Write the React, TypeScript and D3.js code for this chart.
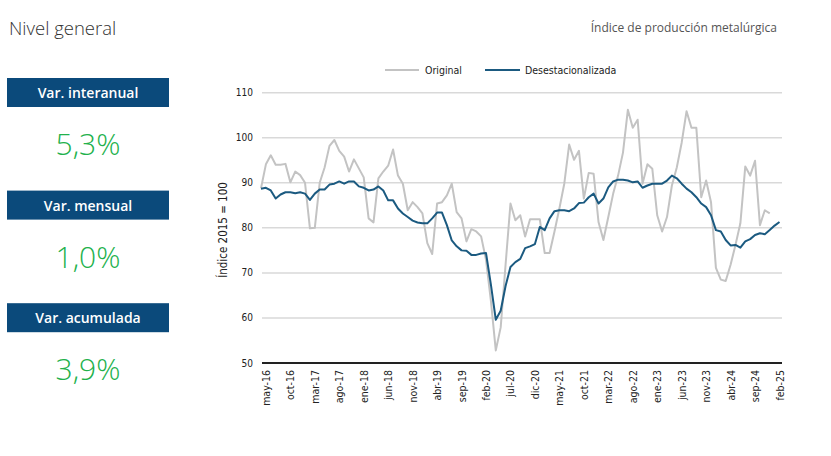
import React from "react";
import * as d3 from "d3";

// Monthly series, Apr 2016 .. Feb 2025
const MONTHS_ES = ["ene", "feb", "mar", "abr", "may", "jun", "jul", "ago", "sep", "oct", "nov", "dic"];
const START_YEAR = 2016;
const START_MONTH = 3; // abr

const original: (number | null)[] = [
  88.8, 94.1, 96.1, 94.0, 94.0, 94.2, 90.1, 92.5, 91.7, 90.0, 79.9, 80.0, 90.0, 93.4, 98.2, 99.5,
  97.1, 95.8, 92.5, 95.2, 93.2, 91.2, 82.1, 81.2, 91.0, 92.5, 93.8, 97.4, 91.6, 89.8, 83.9, 85.7,
  84.6, 83.2, 76.6, 74.2, 85.4, 85.7, 87.2, 89.8, 83.5, 82.1, 77.0, 79.7, 79.2, 78.1, 72.9, 63.8,
  52.8, 57.9, 71.8, 85.4, 81.7, 82.8, 78.1, 81.9, 81.9, 81.9, 74.4, 74.4, 79.2, 84.3, 89.8, 98.5,
  95.1, 97.1, 86.5, 92.2, 92.0, 81.3, 77.3, 82.4, 87.6, 91.6, 96.7, 106.2, 102.2, 104.0, 89.8, 94.1,
  93.1, 82.8, 79.2, 82.4, 89.4, 93.4, 98.9, 105.9, 102.2, 102.2, 86.8, 90.5, 85.7, 71.1, 68.5, 68.2,
  71.8, 76.2, 81.0, 93.6, 91.6, 94.9, 80.6, 83.9, 83.2, null, null,
];

const desestacionalizada: number[] = [
  88.7, 88.9, 88.3, 86.5, 87.4, 87.9, 87.9, 87.7, 87.9, 87.6, 86.2, 87.6, 88.5, 88.5, 89.6, 89.8,
  90.3, 89.8, 90.3, 90.3, 89.2, 88.9, 88.3, 88.5, 89.2, 88.3, 86.1, 86.1, 84.3, 83.2, 82.4, 81.6,
  81.2, 81.0, 81.0, 82.1, 83.4, 83.4, 80.6, 77.2, 75.9, 75.0, 74.9, 74.0, 74.0, 74.3, 74.4, 67.4,
  59.6, 61.6, 67.1, 71.3, 72.4, 73.1, 75.5, 75.9, 76.4, 80.2, 79.5, 82.1, 83.7, 83.9, 83.9, 83.7,
  84.3, 85.5, 85.6, 86.8, 87.6, 85.4, 86.5, 89.0, 90.3, 90.7, 90.7, 90.5, 90.1, 90.3, 88.9, 89.4,
  89.8, 89.8, 89.8, 90.5, 91.6, 91.0, 89.8, 88.7, 87.9, 86.8, 85.4, 84.6, 82.8, 79.5, 79.2, 77.3,
  76.1, 76.2, 75.6, 77.0, 77.5, 78.4, 78.8, 78.6, 79.5, 80.5, 81.3,
];

const tickLabels = [
  "may-16", "oct-16", "mar-17", "ago-17", "ene-18", "jun-18", "nov-18", "abr-19", "sep-19", "feb-20", "jul-20",
  "dic-20", "may-21", "oct-21", "mar-22", "ago-22", "ene-23", "jun-23", "nov-23", "abr-24", "sep-24", "feb-25",
];

const yTicks = [50, 60, 70, 80, 90, 100, 110];

const kpiLabels = ["Var. interanual", "Var. mensual", "Var. acumulada"];
const kpiValues = ["5,3%", "1,0%", "3,9%"];

const categories = desestacionalizada.map((_, i) => {
  const m = START_MONTH + i;
  const y = START_YEAR + Math.floor(m / 12);
  return `${MONTHS_ES[m % 12]}-${String(y % 100).padStart(2, "0")}`;
});

const W = 831;
const H = 456;
const NAVY = "#0b4a7b";
const GREEN = "#22b14c";
const BLUE_LINE = "#1b5a80";
const GRAY_LINE = "#c3c3c3";
const COND = "'DejaVu Sans Condensed', 'Liberation Sans Narrow', 'Roboto', sans-serif";
const SANS = "'Open Sans', 'Noto Sans', sans-serif";

export default function App() {
  const x = d3.scalePoint<string>().domain(categories).range([261, 779.5]);
  const y = d3.scaleLinear().domain([50, 110]).range([363, 92.7]);

  const lineGen = d3
    .line<number | null>()
    .defined((d) => d != null)
    .x((_, i) => x(categories[i]) as number)
    .y((d) => y(d as number));

  const gridX0 = 262;
  const gridX1 = 782;

  return (
    <svg
      width={W}
      height={H}
      style={{ position: "absolute", left: 0, top: 0, background: "#fff" }}
      xmlns="http://www.w3.org/2000/svg"
    >
      <text x={9} y={35} fontFamily={SANS} fontSize={18.5} fill="#333" fontWeight={300}>
        Nivel general
      </text>
      <text x={777} y={32} fontFamily={SANS} fontSize={12} fill="#555" textAnchor="end">
        Índice de producción metalúrgica
      </text>

      {kpiLabels.map((lab, k) => {
        const top = 78 + k * 112.6;
        return (
          <g key={lab}>
            <rect x={7} y={top} width={162} height={29} fill={NAVY} />
            <text
              x={88}
              y={top + 20}
              textAnchor="middle"
              fontFamily={SANS}
              fontSize={14}
              fontWeight={600}
              fill="#fff"
            >
              {lab}
            </text>
            <text
              x={88}
              y={top + 77}
              textAnchor="middle"
              fontFamily={SANS}
              fontSize={30}
              fontWeight={300}
              fill={GREEN}
            >
              {kpiValues[k]}
            </text>
          </g>
        );
      })}

      {/* grid */}
      {yTicks.map((t) => (
        <g key={t}>
          {t !== 50 && (
            <line x1={gridX0} x2={gridX1} y1={y(t)} y2={y(t)} stroke="#d9d9d9" strokeWidth={1.5} />
          )}
          <text
            x={253}
            y={y(t)}
            dy="0.35em"
            textAnchor="end"
            fontFamily={COND}
            fontSize={10}
            fill="#222"
          >
            {t}
          </text>
        </g>
      ))}

      <text
        transform={`translate(227,230) rotate(-90)`}
        textAnchor="middle"
        fontFamily={COND}
        fontSize={11.5}
        fill="#222"
      >
        Índice 2015 = 100
      </text>

      {/* lines */}
      <path d={lineGen(original) || ""} fill="none" stroke={GRAY_LINE} strokeWidth={2} strokeLinejoin="round" />
      <path
        d={lineGen(desestacionalizada) || ""}
        fill="none"
        stroke={BLUE_LINE}
        strokeWidth={2}
        strokeLinejoin="round"
      />

      {/* x axis */}
      <line x1={gridX0} x2={gridX1} y1={y(50)} y2={y(50)} stroke="#222" strokeWidth={2} />
      {tickLabels.map((t) => (
        <text
          key={t}
          transform={`translate(${(x(t) as number) + 4},370) rotate(-90)`}
          textAnchor="end"
          fontFamily={COND}
          fontSize={10.5}
          fill="#222"
        >
          {t}
        </text>
      ))}

      {/* legend */}
      <line x1={385} x2={419} y1={70} y2={70} stroke={GRAY_LINE} strokeWidth={2} />
      <text x={425} y={74} fontFamily={COND} fontSize={10.5} fill="#222">
        Original
      </text>
      <line x1={485} x2={520} y1={70} y2={70} stroke={BLUE_LINE} strokeWidth={2} />
      <text x={525} y={74} fontFamily={COND} fontSize={10.5} fill="#222">
        Desestacionalizada
      </text>
    </svg>
  );
}
